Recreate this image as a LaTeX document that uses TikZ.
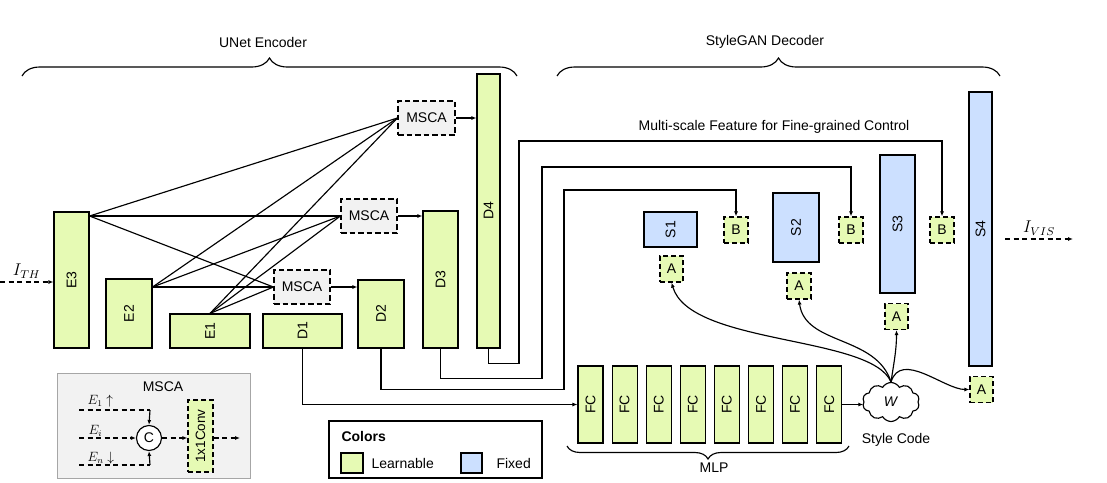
\documentclass[tikz,border=0pt]{standalone}
\usepackage{fontspec}
\setmainfont{Liberation Sans}
\usetikzlibrary{arrows.meta,shapes.symbols,decorations.pathreplacing,calc}
\definecolor{lrncol}{HTML}{E6FAB4}
\definecolor{fixcol}{HTML}{CCE0FF}
\definecolor{mscacol}{HTML}{F2F2F2}
\definecolor{insetborder}{HTML}{A6A6A6}
\newcommand\bigmath[2]{\scalebox{#1}{\fontsize{12}{14}\selectfont$#2$}}
\begin{document}
\begin{tikzpicture}[x=1pt,y=-1pt, line width=1.15pt,
  >={Latex[length=5pt,width=4pt]},
  every node/.style={font=\fontsize{14}{16}\selectfont, inner sep=0pt},
  blk/.style={draw, fill=lrncol},
  fixblk/.style={draw, fill=fixcol},
  mscabox/.style={draw, dash pattern=on 5.5pt off 3pt, fill=mscacol, minimum width=56pt, minimum height=34pt},
  abbox/.style={draw, dash pattern=on 5pt off 3pt, fill=lrncol, minimum width=24pt, minimum height=26pt},
  dsh/.style={dash pattern=on 5pt off 3.5pt}
]
\useasboundingbox (0,0) rectangle (1107,482);

% braces
\node (tUNet) at (263,42) {UNet Encoder};
\node (tSG) at (765,42) {StyleGAN Decoder};
\draw[decorate,decoration={brace,amplitude=18pt}] (22,76) -- (517,76);
\draw[decorate,decoration={brace,amplitude=18pt}] (557,76) -- (1000,76);

% encoder / decoder blocks
\node[blk, minimum width=35pt, minimum height=136pt] (E3) at (71.5,280) {\rotatebox{90}{E3}};
\node[blk, minimum width=46pt, minimum height=69pt] (E2) at (129,313.5) {\rotatebox{90}{E2}};
\node[blk, minimum width=80pt, minimum height=34pt] (E1) at (210,331) {\rotatebox{90}{E1}};
\node[blk, minimum width=79pt, minimum height=34pt] (D1) at (302.5,331) {\rotatebox{90}{D1}};
\node[blk, minimum width=46pt, minimum height=68pt] (D2) at (381,314) {\rotatebox{90}{D2}};
\node[blk, minimum width=35pt, minimum height=137pt] (D3) at (440.5,279.5) {\rotatebox{90}{D3}};
\node[blk, minimum width=23pt, minimum height=274pt] (D4) at (488.5,211) {\rotatebox{90}{D4}};

\node[mscabox] (M1) at (302,287) {MSCA};
\node[mscabox] (M2) at (369,216) {MSCA};
\node[mscabox, minimum width=57pt] (M3) at (426.5,118) {MSCA};

% encoder -> MSCA lines
\coordinate (e3p) at (E3.east |- M2.west);
\coordinate (e2p) at (E2.east |- M1.west);
\foreach \m in {M1,M2,M3}{
  \draw (e3p) -- (\m.west);
  \draw (e2p) -- (\m.west);
  \draw (E1.north) -- (\m.west);
}
\draw[->] (M1.east) -- (D2.west |- M1.east);
\draw[->] (M2.east) -- (D3.west |- M2.east);
\draw[->] (M3.east) -- (D4.west |- M3.east);

% input
\coordinate (inS) at (0,282);
\draw[dsh,->] (inS) -- (E3.west |- inS) node[midway, above=3pt] {\bigmath{1.42}{I_{TH}}};

% StyleGAN blocks
\node[fixblk, minimum width=53pt, minimum height=35pt] (S1) at (670.5,229.5) {\rotatebox{90}{S1}};
\node[fixblk, minimum width=46pt, minimum height=69pt] (S2) at (796,227.5) {\rotatebox{90}{S2}};
\node[fixblk, minimum width=35pt, minimum height=138pt] (S3) at (897.5,224) {\rotatebox{90}{S3}};
\node[fixblk, minimum width=23pt, minimum height=274pt] (S4) at (980.5,229) {\rotatebox{90}{S4}};

\node[abbox] (B1) at (736,230) {B};
\node[abbox] (B2) at (851,230) {B};
\node[abbox] (B3) at (942,230) {B};
\node[abbox, minimum width=23pt] (A1) at (671.5,269) {A};
\node[abbox] (A2) at (799,286) {A};
\node[abbox, minimum width=23pt] (A3) at (896.5,316.5) {A};
\node[abbox, minimum width=23pt] (A4) at (981.5,389.5) {A};

\node (tMS) at (774,127) {Multi-scale Feature for Fine-grained Control};

% decoder -> B connections
\draw[->] (D4.south) -- ++(0,15) -| (519,141) -| (B3.north);
\draw[->] (D3.south) -- ++(0,30) -| (542,167) -| (B2.north);
\draw[->] (D2.south) -- ++(0,41) -| (564,190) -| (B1.north);

% output
\coordinate (outS) at (1005,239);
\coordinate (outE) at (1073,239);
\draw[dsh,->] (outS) -- (outE) node[midway, above=3pt] {\bigmath{1.42}{I_{VIS}}};

% MLP
\foreach \i in {1,...,8}{
  \node[blk, minimum width=25pt, minimum height=77pt] (FC\i) at ({590.5+34.1*(\i-1)},404.5) {\rotatebox{90}{FC}};
}
\draw[->] (D1.south) |- (FC1.west);
\draw[decorate,decoration={brace,amplitude=13pt,mirror}] (567,446) -- (849,446);
\node (tMLP) at (714,468) {MLP};

% style code
\node[cloud, draw, fill=white, cloud puffs=10, cloud puff arc=120, aspect=1.5,
      minimum width=57pt, minimum height=39pt, inner sep=0pt] (W) at (891,402) {\textit{W}};
\node (tSC) at (896,440) {Style Code};
\draw[->] (FC8.east) -- (W.west |- FC8.east);
\draw[->] (W.north) .. controls +(-20,-47) and +(18.5,63) .. (A1.south);
\draw[->] (W.north) .. controls +(-15,-47) and +(6,46) .. (A2.south);
\draw[->] (W.north) .. controls +(3,-20) and +(0,20) .. (A3.south);
\draw[->] (W.north) .. controls +(10,-32) and +(-25,0) .. (A4.west);

% MSCA inset
\draw[insetborder, fill=mscacol, line width=1pt] (57,373) rectangle (250,478);
\node (tIn) at (163,387) {MSCA};
\node[draw, circle, fill=white, minimum size=25pt] (Cc) at (149,438) {C};
\node[draw, dash pattern=on 5pt off 3pt, fill=lrncol, minimum width=25pt, minimum height=72pt,
      font=\fontsize{13.5}{16}\selectfont] (conv) at (200.5,436) {\rotatebox{90}{1x1Conv}};
\coordinate (e1s) at (79,410);
\coordinate (e1e) at (150,410);
\coordinate (eis) at (79,438);
\coordinate (ens) at (79,465);
\coordinate (ene) at (150,465);
\coordinate (ce) at (240,438);
\draw[dsh] (e1s) -- (e1e);
\draw[->] (e1e) -- (Cc.north);
\draw[dsh,->] (eis) -- (Cc.west);
\draw[dsh] (ens) -- (ene);
\draw[->] (ene) -- (Cc.south);
\draw[dsh,->] (Cc.east) -- (conv.west |- Cc.east);
\draw[dsh,->] (conv.east |- Cc.east) -- (ce);
\node[anchor=base west] (lE1) at (87,404) {\bigmath{1.12}{E_1\uparrow}};
\node[anchor=base west] (lEi) at (88,434) {\bigmath{1.12}{E_i}};
\node[anchor=base west] (lEn) at (87,461) {\bigmath{1.12}{E_n\downarrow}};

% legend
\draw (329,421) rectangle (542,478);
\node[anchor=west, font=\bfseries\fontsize{14}{16}\selectfont] (tCol) at (341,436) {Colors};
\node[draw, fill=lrncol, minimum width=22pt, minimum height=20pt] (lgL) at (352,463) {};
\node[anchor=west] (tL) at (371,463) {Learnable};
\node[draw, fill=fixcol, minimum width=21pt, minimum height=20pt] (lgF) at (471.5,463) {};
\node[anchor=west] (tF) at (496,463) {Fixed};
\end{tikzpicture}
\end{document}
